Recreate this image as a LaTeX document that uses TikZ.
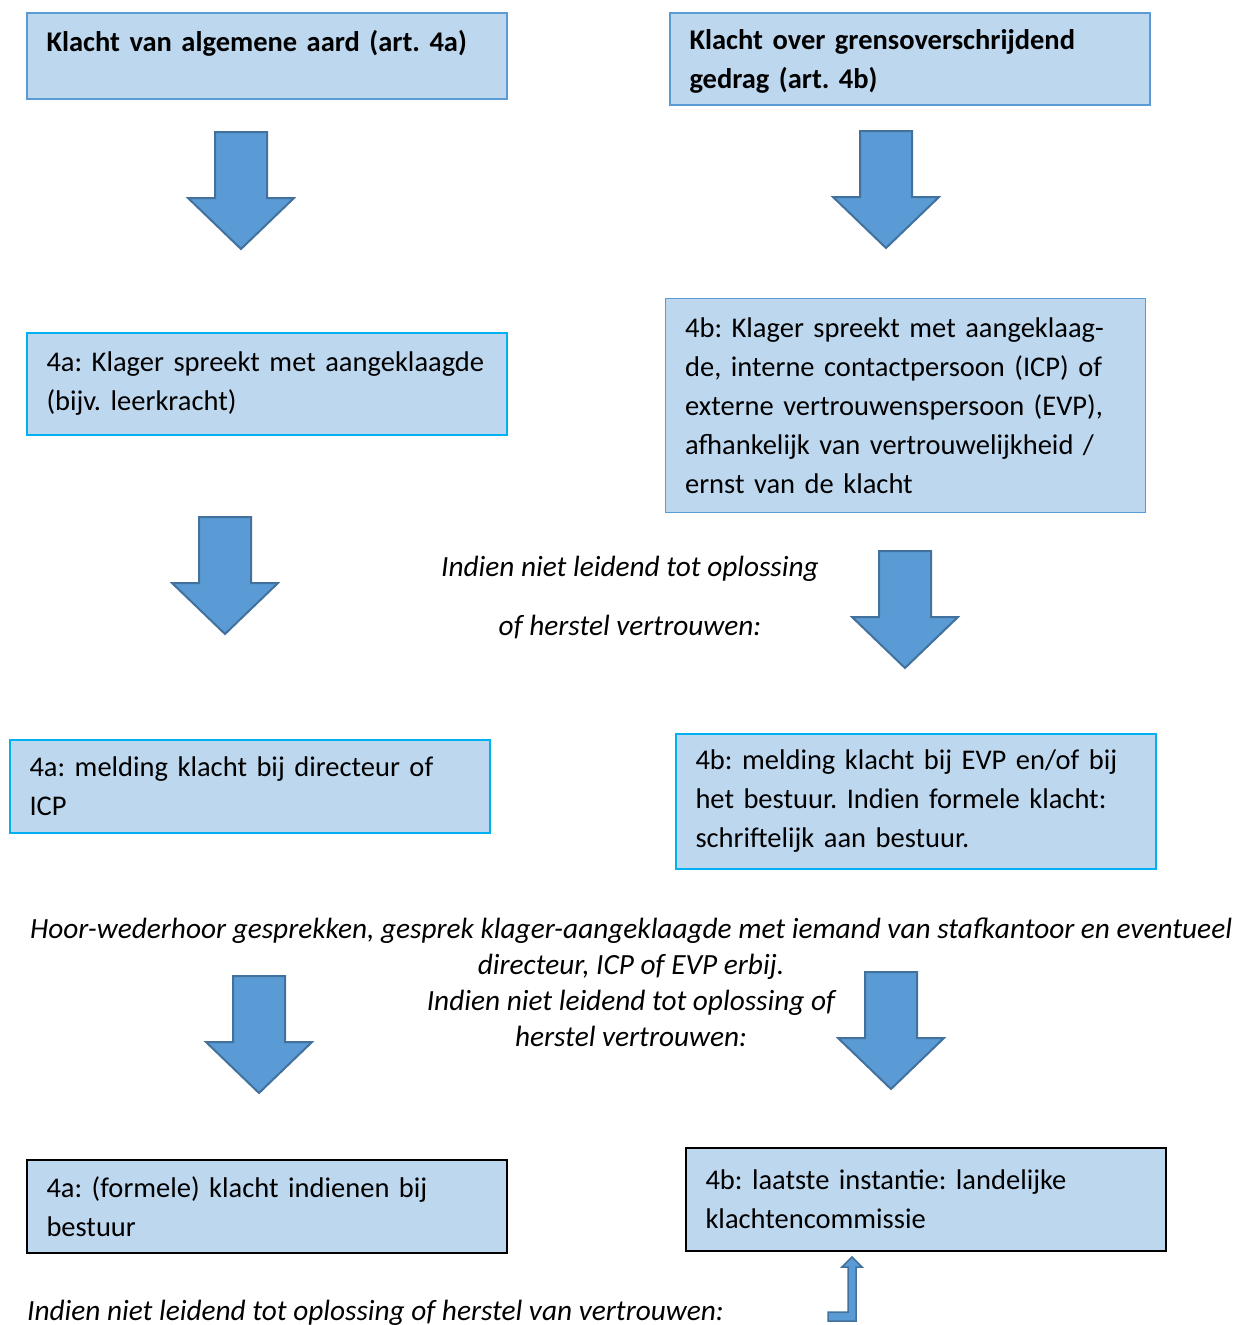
\documentclass[tikz,border=0pt]{standalone}
\usepackage{fontspec}
\setmainfont{Carlito}
\usepackage{xcolor}
\usetikzlibrary{positioning}
\definecolor{boxfill}{HTML}{BDD7EE}
\definecolor{edgeblue}{HTML}{5B9BD5}
\definecolor{edgecyan}{HTML}{00B0F0}
\definecolor{arrowfill}{HTML}{5B9BD5}
\definecolor{arrowline}{HTML}{41719C}
\frenchspacing

\begin{document}
\begin{tikzpicture}[
  x=1pt, y=-1pt,
  box/.style={draw, fill=boxfill, line width=2pt, anchor=north west, align=left,
    text width=441pt, inner xsep=19.5pt, inner ysep=8pt, minimum width=480pt,
    font=\fontsize{28.5}{39}\selectfont},
  note/.style={align=center, inner sep=0pt, font=\itshape\fontsize{29.3}{36}\selectfont},
  arrowshape/.style={fill=arrowfill, draw=arrowline, line width=2pt, line join=miter},
  blockarrow/.pic={\draw[arrowshape] (-26,0) -- (26,0) -- (26,66) -- (53,66) -- (0,117)
    -- (-53,66) -- (-26,66) -- cycle;}
]
  \useasboundingbox (0,0) rectangle (1239,1325);

  \node[box, draw=edgeblue, minimum height=86pt, text height=28pt, text depth=38pt,
    font=\bfseries\fontsize{28.5}{39}\selectfont] (algemeen) at (26,12)
    {Klacht van algemene aard (art. 4a)};
  \node[box, draw=edgeblue, minimum height=92pt, text height=28pt, text depth=48pt,
    font=\bfseries\fontsize{28.5}{39}\selectfont]
    (grens) at (669,12) {Klacht over grensoverschrijdend\\gedrag (art. 4b)};

  \node[box, draw=edgecyan, minimum height=102pt] (gesprekA) at (26,332)
    {4a: Klager spreekt met aangeklaagde\\(bijv. leerkracht)};
  \node[box, draw=edgeblue, line width=1.2pt, minimum height=214pt] (gesprekB) at (665,298)
    {4b: Klager spreekt met aangeklaag-\\de, interne contactpersoon (ICP) of\\externe vertrouwenspersoon (EVP),\\afhankelijk van vertrouwelijkheid /\\ernst van de klacht};

  \node[box, draw=edgecyan, minimum height=93pt] (meldingA) at (9,739)
    {4a: melding klacht bij directeur of\\ICP};
  \node[box, draw=edgecyan, minimum height=135pt] (meldingB) at (675,733)
    {4b: melding klacht bij EVP en/of bij\\het bestuur. Indien formele klacht:\\schriftelijk aan bestuur.};

  \node[box, draw=black, minimum height=93pt] (bestuur) at (26,1159)
    {4a: (formele) klacht indienen bij\\bestuur};
  \node[box, draw=black, minimum height=103pt] (commissie) at (685,1147)
    {4b: laatste instantie: landelijke\\klachtencommissie};

  \node[note, font=\itshape\fontsize{29.3}{59}\selectfont] (vervolgB) at (630,598)
    {Indien niet leidend tot oplossing\\of herstel vertrouwen:};
  \node[note] (hoor) at (631,982)
    {Hoor-wederhoor gesprekken, gesprek klager-aangeklaagde met iemand van stafkantoor en eventueel\\directeur, ICP of EVP erbij.\\Indien niet leidend tot oplossing of\\herstel vertrouwen:};
  \node[note, anchor=base west] (vervolgA) at (27,1320)
    {Indien niet leidend tot oplossing of herstel van vertrouwen:};

  \pic at (241,132) {blockarrow};
  \pic at (886,131) {blockarrow};
  \pic at (225,517) {blockarrow};
  \pic at (905,551) {blockarrow};
  \pic at (259,976) {blockarrow};
  \pic at (891,972) {blockarrow};

  \draw[arrowshape, line width=1.5pt] (828,1312) -- (848,1312) -- (848,1267) -- (842,1267)
    -- (852,1257) -- (862,1267) -- (856,1267) -- (856,1321) -- (828,1321) -- cycle;
\end{tikzpicture}
\end{document}
